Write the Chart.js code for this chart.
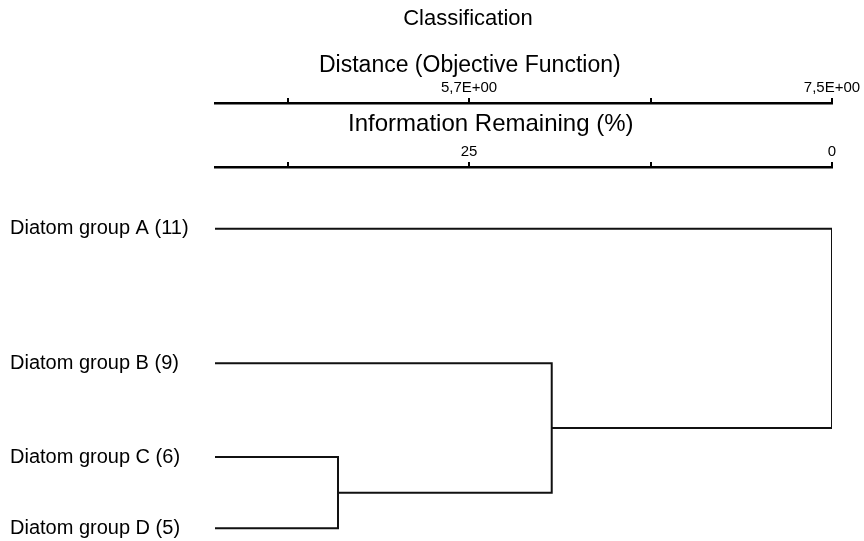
<!DOCTYPE html>
<html>
<head>
<meta charset="utf-8">
<script src="https://cdn.jsdelivr.net/npm/chart.js@4.4.1/dist/chart.umd.min.js"></script>
<style>
  html, body { margin: 0; padding: 0; background: #fff; }
  #wrap { width: 864px; height: 541px; }
</style>
</head>
<body>
<div id="wrap"><canvas id="dendro"></canvas></div>
<script>
// hojas del dendrograma (de arriba a abajo) y su fila en el eje y
const groupNames = ['Diatom group A (11)', 'Diatom group B (9)', 'Diatom group C (6)', 'Diatom group D (5)'];
const groupRows = [4.21, 2.32, 1, 0];

// uniones: [hijo1, hijo2, distancia] -> hojas 0..3, nodos nuevos 4, 5, 6
const merges = [
  [2, 3, 5.05],
  [1, 4, 6.11],
  [0, 5, 7.5]
];

// eje de distancia (arriba)
const distMin = 4.44;
const distMax = 7.5;
const distTicks = [4.8, 5.7, 6.6, 7.5];
const distTickLabels = ['', '5,7E+00', '', '7,5E+00'];

// eje de informacion restante (invertido)
const infoMax = 42.5;
const infoTicks = [37.5, 25, 12.5, 0];
const infoTickLabels = ['', '25', '', '0'];

const FONT = "'Liberation Sans', Arial, sans-serif";

// armar los tramos en forma de U de cada union
const nodes = groupRows.map(r => ({ x: distMin, y: r }));
const links = merges.map(([a, b, d]) => {
  const n1 = nodes[a], n2 = nodes[b];
  nodes.push({ x: d, y: (n1.y + n2.y) / 2 });
  return [
    { x: n1.x, y: n1.y },
    { x: d, y: n1.y },
    { x: d, y: n2.y },
    { x: n2.x, y: n2.y }
  ];
});

// titulos dibujados a mano (no van centrados sobre el area)
const headings = {
  id: 'headings',
  afterDraw(chart) {
    const { ctx, chartArea } = chart;
    const xd = chart.scales.x, xi = chart.scales.xInfo;
    const w = chartArea.right - chartArea.left;
    ctx.save();
    ctx.fillStyle = '#000';
    ctx.textAlign = 'center';
    ctx.textBaseline = 'middle';
    ctx.font = '22px ' + FONT;
    ctx.fillText('Classification', chartArea.left + w * 0.41, xd.top + 19);
    ctx.font = '23px ' + FONT;
    ctx.fillText('Distance (Objective Function)', chartArea.left + w * 0.413, xd.top + 66);
    ctx.font = '24px ' + FONT;
    ctx.fillText('Information Remaining (%)', chartArea.left + w * 0.447, xi.top + 21);
    ctx.restore();
  }
};

new Chart(document.getElementById('dendro'), {
  type: 'scatter',
  data: {
    datasets: links.map(pts => ({
      data: pts,
      showLine: true,
      borderColor: '#111',
      borderWidth: 2,
      pointRadius: 0,
      tension: 0
    }))
  },
  options: {
    responsive: true,
    maintainAspectRatio: false,
    animation: false,
    layout: { padding: { left: 10, right: 32, top: 0, bottom: 5 } },
    plugins: {
      legend: { display: false },
      tooltip: { enabled: false }
    },
    scales: {
      x: {
        type: 'linear',
        position: 'top',
        weight: 2,
        min: distMin,
        max: distMax,
        afterBuildTicks: s => { s.ticks = distTicks.map(v => ({ value: v })); },
        afterFit: s => { s.height = 103; },
        ticks: {
          callback: (v, i) => distTickLabels[i],
          font: { family: FONT, size: 15 },
          color: '#000',
          padding: 1,
          maxRotation: 0,
          autoSkip: false
        },
        grid: { drawOnChartArea: false, tickLength: 5, color: '#000', lineWidth: 2 },
        border: { color: '#000', width: 2.5 }
      },
      xInfo: {
        type: 'linear',
        position: 'top',
        weight: 1,
        reverse: true,
        min: 0,
        max: infoMax,
        afterBuildTicks: s => { s.ticks = infoTicks.map(v => ({ value: v })); },
        afterFit: s => { s.height = 64; },
        ticks: {
          callback: (v, i) => infoTickLabels[i],
          font: { family: FONT, size: 15 },
          color: '#000',
          padding: 1,
          maxRotation: 0,
          autoSkip: false
        },
        grid: { drawOnChartArea: false, tickLength: 5, color: '#000', lineWidth: 2 },
        border: { color: '#000', width: 2.5 }
      },
      y: {
        type: 'linear',
        min: -0.11,
        max: 5.08,
        afterBuildTicks: s => { s.ticks = groupRows.map(v => ({ value: v })); },
        afterFit: s => { s.width = 205; s.paddingTop = 0; s.paddingBottom = 0; },
        ticks: {
          callback: (v, i) => groupNames[i],
          font: { family: FONT, size: 20 },
          color: '#000',
          crossAlign: 'far',
          padding: 0,
          autoSkip: false
        },
        grid: { display: false, drawTicks: false },
        border: { display: false }
      }
    }
  },
  plugins: [headings]
});
</script>
</body>
</html>
